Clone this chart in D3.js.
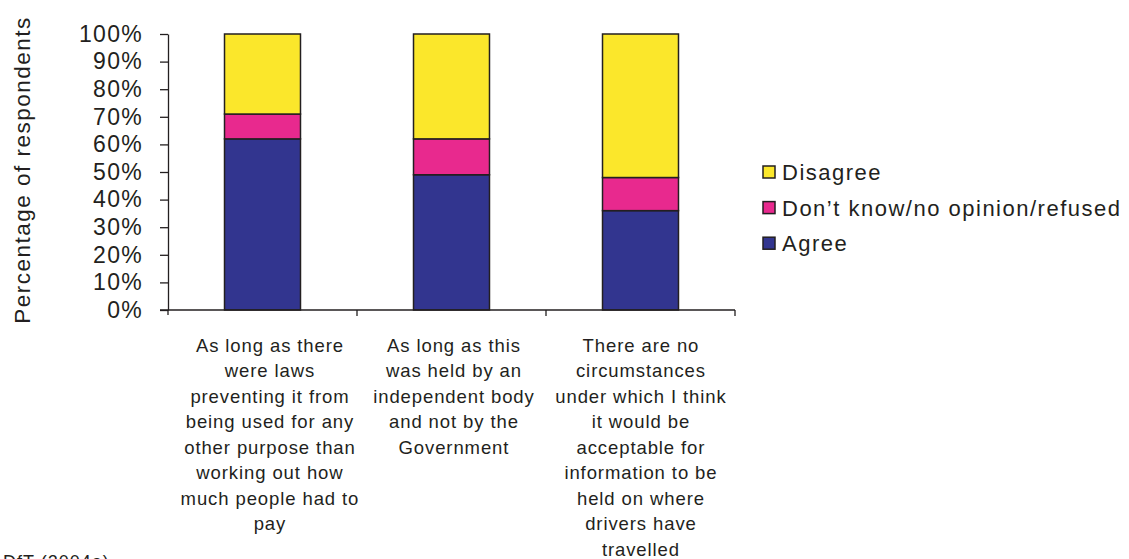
<!DOCTYPE html>
<html>
<head>
<meta charset="utf-8">
<script src="https://cdn.jsdelivr.net/npm/d3@7"></script>
<style>
  html, body { margin: 0; padding: 0; background: #fff; }
  svg { display: block; font-family: "Liberation Sans", Arial, Helvetica, sans-serif; }
</style>
</head>
<body>
<svg id="chart" width="1129" height="559"></svg>
<script>
// ---- data ----
const categories = [
  "As long as there were laws preventing it from being used for any other purpose than working out how much people had to pay",
  "As long as this was held by an independent body and not by the Government",
  "There are no circumstances under which I think it would be acceptable for information to be held on where drivers have travelled"
];
const categoryLines = [
  ["As long as there", "were laws", "preventing it from", "being used for any", "other purpose than", "working out how", "much people had to", "pay"],
  ["As long as this", "was held by an", "independent body", "and not by the", "Government"],
  ["There are no", "circumstances", "under which I think", "it would be", "acceptable for", "information to be", "held on where", "drivers have", "travelled"]
];
const seriesNames = ["Agree", "Don\u2019t know/no opinion/refused", "Disagree"];
const agree = [62, 49, 36];
const dontKnow = [9, 13, 12];
const disagree = [29, 38, 52];
const seriesColors = ["#32358f", "#e8298e", "#fbe72b"];
const yTicks = [0, 10, 20, 30, 40, 50, 60, 70, 80, 90, 100];
const yTitle = "Percentage of respondents";
const source = "DfT (2004a)";

// ---- layout ----
const svg = d3.select("#chart");
const ink = "#231f20";
const plotLeft = 168, plotRight = 735, plotTop = 34, plotBottom = 310;
const labelShift = [7, 2, 0]; // horizontal nudge of each category's label block

const x = d3.scaleBand().domain(categories).range([plotLeft, plotRight])
  .paddingInner(0.598).paddingOuter(0.299);
const y = d3.scaleLinear().domain([0, 100]).range([plotBottom, plotTop]);

const rows = categories.map((c, i) => ({ cat: c, Agree: agree[i], DK: dontKnow[i], Disagree: disagree[i] }));
const stack = d3.stack().keys(["Agree", "DK", "Disagree"])(rows);

// bars
const g = svg.append("g");
stack.forEach((layer, li) => {
  g.selectAll(null).data(layer).enter().append("rect")
    .attr("x", d => x(d.data.cat))
    .attr("y", d => y(d[1]))
    .attr("width", x.bandwidth())
    .attr("height", d => y(d[0]) - y(d[1]))
    .attr("fill", seriesColors[li])
    .attr("stroke", ink)
    .attr("stroke-width", 1.5);
});

// y axis
const yAxis = svg.append("g").attr("transform", `translate(${plotLeft},0)`)
  .call(d3.axisLeft(y).tickValues(yTicks).tickFormat(d => d + "%").tickSize(8).tickSizeOuter(0).tickPadding(17));
yAxis.select(".domain").attr("stroke", ink).attr("stroke-width", 1.3);
yAxis.selectAll(".tick line").attr("stroke", ink).attr("stroke-width", 1.3);
yAxis.selectAll(".tick text").attr("fill", ink).style("font-size", "23px").style("letter-spacing", "1.3px")
  .attr("font-family", "Liberation Sans, Arial, sans-serif");
svg.append("line").attr("x1", plotLeft).attr("x2", plotLeft).attr("y1", plotBottom).attr("y2", plotBottom + 5)
  .attr("stroke", ink).attr("stroke-width", 1.3);

// x axis
svg.append("line").attr("x1", plotLeft - 8).attr("x2", plotRight).attr("y1", plotBottom).attr("y2", plotBottom)
  .attr("stroke", ink).attr("stroke-width", 1.3);
categories.forEach(c => {
  const bx = x(c) + x.bandwidth() + x.step() * x.paddingInner() / 2;
  svg.append("line").attr("x1", bx).attr("x2", bx).attr("y1", plotBottom).attr("y2", plotBottom + 6)
    .attr("stroke", ink).attr("stroke-width", 1.3);
});

// category labels
categories.forEach((c, i) => {
  const cx = x(c) + x.bandwidth() / 2 + labelShift[i];
  const t = svg.append("text").attr("x", cx).attr("y", 351.5)
    .attr("text-anchor", "middle").attr("fill", ink)
    .style("font-size", "18.5px").style("letter-spacing", "0.9px");
  categoryLines[i].forEach((ln, k) => {
    t.append("tspan").attr("x", cx + 0.45).attr("y", 351.5 + k * 25.5).text(ln);
  });
});

// y title
svg.append("text")
  .attr("transform", `translate(30,170) rotate(-90)`)
  .attr("text-anchor", "middle").attr("fill", ink)
  .style("font-size", "22.5px").style("letter-spacing", "1.5px")
  .text(yTitle);

// legend (reversed order)
const legendOrder = [2, 1, 0];
legendOrder.forEach((si, k) => {
  const cy = 172 + k * 35.6;
  svg.append("rect").attr("x", 763).attr("y", cy - 6).attr("width", 12).attr("height", 12)
    .attr("fill", seriesColors[si]).attr("stroke", ink).attr("stroke-width", 1.5);
  svg.append("text").attr("x", 782).attr("y", cy + 8).attr("fill", ink)
    .style("font-size", "22px").style("letter-spacing", "1.5px")
    .text(seriesNames[si]);
});

// source (cut off at the bottom edge, as in the reference)
svg.append("text").attr("x", 3).attr("y", 568).attr("fill", ink)
  .style("font-size", "18px").style("letter-spacing", "1px").text(source);
</script>
</body>
</html>
